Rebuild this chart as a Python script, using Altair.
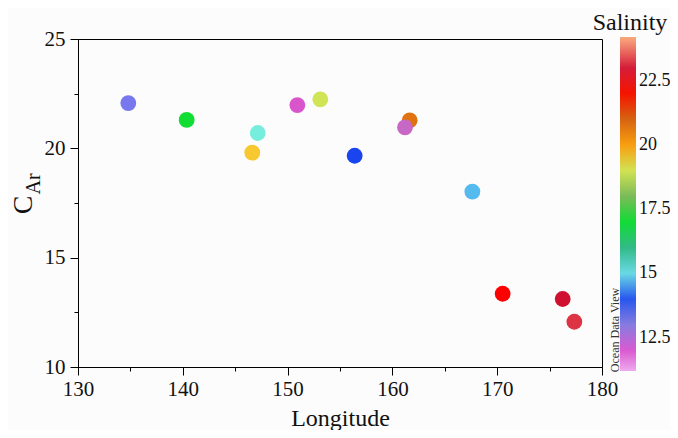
import altair as alt
import pandas as pd

# data
longitude = [134.8, 140.37, 147.15, 146.63, 150.93, 153.12, 156.4, 161.65, 161.2, 167.63, 170.52, 176.25, 177.36]
c_ar = [22.07, 21.3, 20.7, 19.8, 21.98, 22.24, 19.66, 21.28, 20.96, 18.02, 13.35, 13.11, 12.07]
salinity = [13.16, 17.03, 15.21, 19.48, 12.11, 18.97, 13.78, 20.85, 12.3, 14.71, 22.19, 22.85, 23.24]

# ODV-like colour bar stops
cbar_stops = [11.2, 11.72, 12.11, 12.62, 13.16, 13.78, 14.17, 14.71, 15.21, 15.72, 16.26,
              17.03, 17.66, 18.2, 18.97, 19.48, 19.98, 20.64, 21.14, 21.53, 22.19, 22.85,
              23.24, 23.62, 24.2]
cbar_colors = ["#eeaaee", "#dd66dd", "#d955cc", "#aa88bb", "#7777ee", "#1a44ee", "#3366ee",
               "#55bbee", "#77eedd", "#44ccaa", "#22aa66", "#11dd33", "#66bb44", "#88bb66",
               "#d0e455", "#f8c830", "#f8a010", "#ee8811", "#cc5511", "#dd4400", "#ff0000",
               "#d01030", "#dd3344", "#f07070", "#f8a878"]
cbar_ticks = [12.5, 15, 17.5, 20, 22.5]
x_ticks = [130, 135, 140, 145, 150, 155, 160, 165, 170, 175, 180]
y_ticks = [10, 12.5, 15, 17.5, 20, 22.5, 25]

df = pd.DataFrame({"Longitude": longitude, "CAr": c_ar, "Salinity": salinity})

FONT = "Liberation Serif, Times New Roman, DejaVu Serif, serif"

points = alt.Chart(df).mark_circle(size=250, opacity=1).encode(
    x=alt.X("Longitude:Q",
            scale=alt.Scale(domain=[130, 180], nice=False, zero=False),
            axis=alt.Axis(values=x_ticks, title="Longitude", grid=False,
                          labelExpr="datum.value % 10 === 0 ? datum.label : ''",
                          tickSize={"condition": {"test": "datum.value % 10 === 0", "value": 8}, "value": 4},
                          labelFontSize=21, titleFontSize=24, labelPadding=3,
                          titleBaseline="alphabetic", titleY=58,
                          labelFlush=False, labelOverlap=False)),
    y=alt.Y("CAr:Q",
            scale=alt.Scale(domain=[10, 25], nice=False, zero=False),
            axis=alt.Axis(values=y_ticks, title=None, grid=False,
                          labelExpr="datum.value % 5 === 0 ? datum.label : ''",
                          tickSize={"condition": {"test": "datum.value % 5 === 0", "value": 8}, "value": 4},
                          labelFontSize=21, labelPadding=5,
                          labelFlush=False, labelOverlap=False)),
    color=alt.Color("Salinity:Q",
                    scale=alt.Scale(domain=cbar_stops, range=cbar_colors, interpolate="rgb"),
                    legend=alt.Legend(orient="none", legendX=542, legendY=-2, title=None,
                                      gradientLength=334, gradientThickness=16,
                                      values=cbar_ticks, format=".3~g",
                                      labelFontSize=18, labelOffset=3,
                                      labelOverlap=False, gradientStrokeWidth=0)),
)

label_c = alt.Chart().mark_text(text="C", angle=270, fontSize=28, font=FONT,
                                align="center", baseline="alphabetic", color="#111").encode(
    x=alt.value(-46), y=alt.value(166))
label_ar = alt.Chart().mark_text(text="Ar", angle=270, fontSize=20, font=FONT,
                                 align="center", baseline="alphabetic", color="#111").encode(
    x=alt.value(-38), y=alt.value(145))
label_sal = alt.Chart().mark_text(text="Salinity", fontSize=24, font=FONT,
                                  align="center", baseline="alphabetic", color="#111").encode(
    x=alt.value(552), y=alt.value(-9))
label_odv = alt.Chart().mark_text(text="Ocean Data View", angle=270, fontSize=12, font=FONT,
                                  align="center", baseline="alphabetic", color="#333").encode(
    x=alt.value(541), y=alt.value(291))

chart = alt.layer(points, label_c, label_ar, label_sal, label_odv).properties(
    width=524, height=328,
    autosize=alt.AutoSizeParams(type="none"),
    padding={"left": 70, "top": 31, "right": 68, "bottom": 63},
    background="#fcfcfc",
).configure_view(stroke="black", strokeWidth=1).configure_axis(
    domainColor="black", tickColor="black", labelColor="#111", titleColor="#111",
    labelFont=FONT, titleFont=FONT, titleFontWeight="normal", domainWidth=1, tickWidth=1,
).configure_legend(labelFont=FONT, labelColor="#111")

chart.save("out.html", embed_options={"renderer": "svg", "actions": False})
